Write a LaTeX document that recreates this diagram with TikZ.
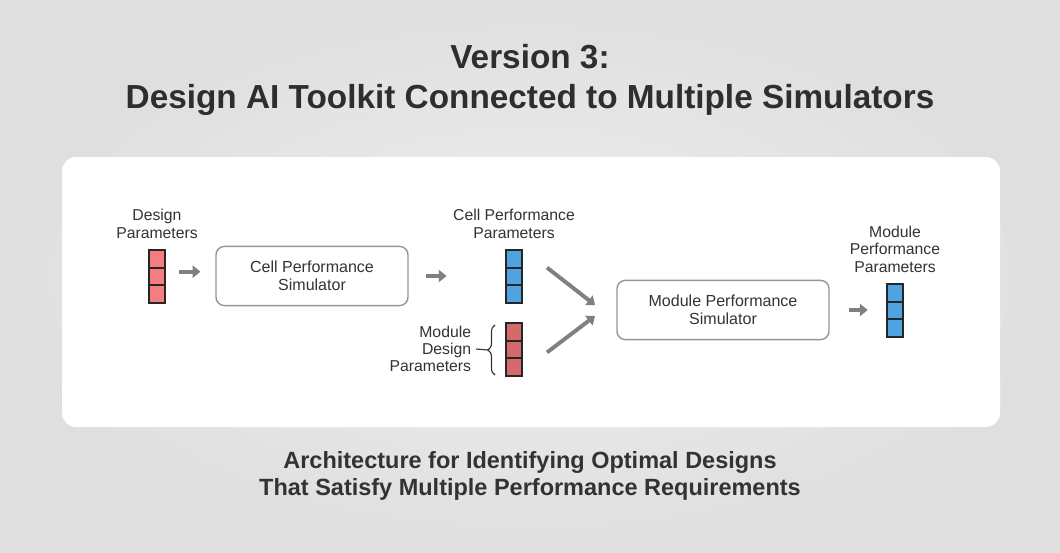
\documentclass[tikz,border=0pt]{standalone}
\usepackage{fontspec}
\setmainfont{Liberation Sans}
\usepackage{xcolor}
\usetikzlibrary{arrows.meta,positioning,decorations.pathreplacing}
\definecolor{inkgray}{RGB}{51,51,51}
\definecolor{flowgray}{RGB}{128,128,128}
\definecolor{boxline}{RGB}{150,150,150}
\definecolor{pinkcell}{RGB}{245,125,125}
\definecolor{redcell}{RGB}{212,106,106}
\definecolor{bluecell}{RGB}{78,163,224}
\definecolor{bgedge}{RGB}{223,223,223}
\definecolor{bgmid}{RGB}{239,239,239}

\begin{document}
\begin{tikzpicture}[x=0.025cm, y=-0.025cm,
every node/.style={text=inkgray},
label/.style={font=\fontsize{11.2}{12.2}\selectfont, align=center},
sim/.style={draw=boxline, line width=1pt, rounded corners=6pt, fill=white, minimum width=4.8cm, minimum height=1.48cm, align=center, font=\fontsize{11.4}{13}\selectfont},
cell/.style={draw=black!85, line width=1.4pt, fill=#1, minimum width=0.42cm, minimum height=0.44cm, inner sep=0pt, outer sep=0pt},
flow/.style={-{Triangle[length=5.5pt, width=8.5pt]}, line width=2.8pt, flowgray}
]
% background and panel
\shade[inner color=bgmid, outer color=bgedge] (0,0) rectangle (1060,553);
\useasboundingbox (0,0) rectangle (1060,553);
\fill[white, rounded corners=10pt] (62,157) rectangle (1000,427);

% titles
\node[font=\bfseries\fontsize{23.7}{28.5}\selectfont, align=center, text=black!82] (title) at (530,80) {Version 3:\\Design AI Toolkit Connected to Multiple Simulators};
\node[font=\bfseries\fontsize{16.7}{19.2}\selectfont, align=center] (caption) at (530,476) {Architecture for Identifying Optimal Designs\\That Satisfy Multiple Performance Requirements};

% design parameters
\node[cell=pinkcell] (dp1) at (157,259) {};
\node[cell=pinkcell, below=0pt of dp1] (dp2) {};
\node[cell=pinkcell, below=0pt of dp2] (dp3) {};
\node[label, above=5pt of dp1] (dplab) {Design\\Parameters};

% cell simulator
\node[sim] (cellsim) at (312,276) {Cell Performance\\Simulator};

% cell performance parameters
\node[cell=bluecell] (cp1) at (514,259) {};
\node[cell=bluecell, below=0pt of cp1] (cp2) {};
\node[cell=bluecell, below=0pt of cp2] (cp3) {};
\node[label, above=5pt of cp1] (cplab) {Cell Performance\\Parameters};

% module design parameters
\node[cell=redcell] (md1) at (514,332) {};
\node[cell=redcell, below=0pt of md1] (md2) {};
\node[cell=redcell, below=0pt of md2] (md3) {};
\draw[inkgray, line width=0.8pt, decorate, decoration={brace, amplitude=5pt}] (495,375) -- (495,325);
\coordinate (bracetip) at (488,350);
\node[label, align=right, anchor=east] (mdlab) at (476,349) {Module\\Design\\Parameters};
\draw[inkgray, line width=0.8pt] (bracetip) -- (mdlab.east);

% module simulator
\node[sim, minimum width=5.3cm] (modsim) at (723,310) {Module Performance\\Simulator};

% module performance parameters
\node[cell=bluecell] (mp1) at (895,293) {};
\node[cell=bluecell, below=0pt of mp1] (mp2) {};
\node[cell=bluecell, below=0pt of mp2] (mp3) {};
\node[label, above=5pt of mp1] (mplab) {Module\\Performance\\Parameters};

% arrows
\coordinate (mergeup) at (595,305);
\coordinate (mergelow) at (595,316);
\draw[flow] ([xshift=10pt, yshift=3.5pt]dp2.east) -- ++(21,0);
\draw[flow] ([xshift=12pt]cellsim.east) -- ++(21,0);
\draw[flow] ([xshift=17.5pt, yshift=6.4pt]cp2.east) -- (mergeup);
\draw[flow] ([xshift=17.5pt, yshift=-2pt]md2.east) -- (mergelow);
\draw[flow] ([xshift=13.5pt]modsim.east) -- ++(19,0);
\end{tikzpicture}
\end{document}
